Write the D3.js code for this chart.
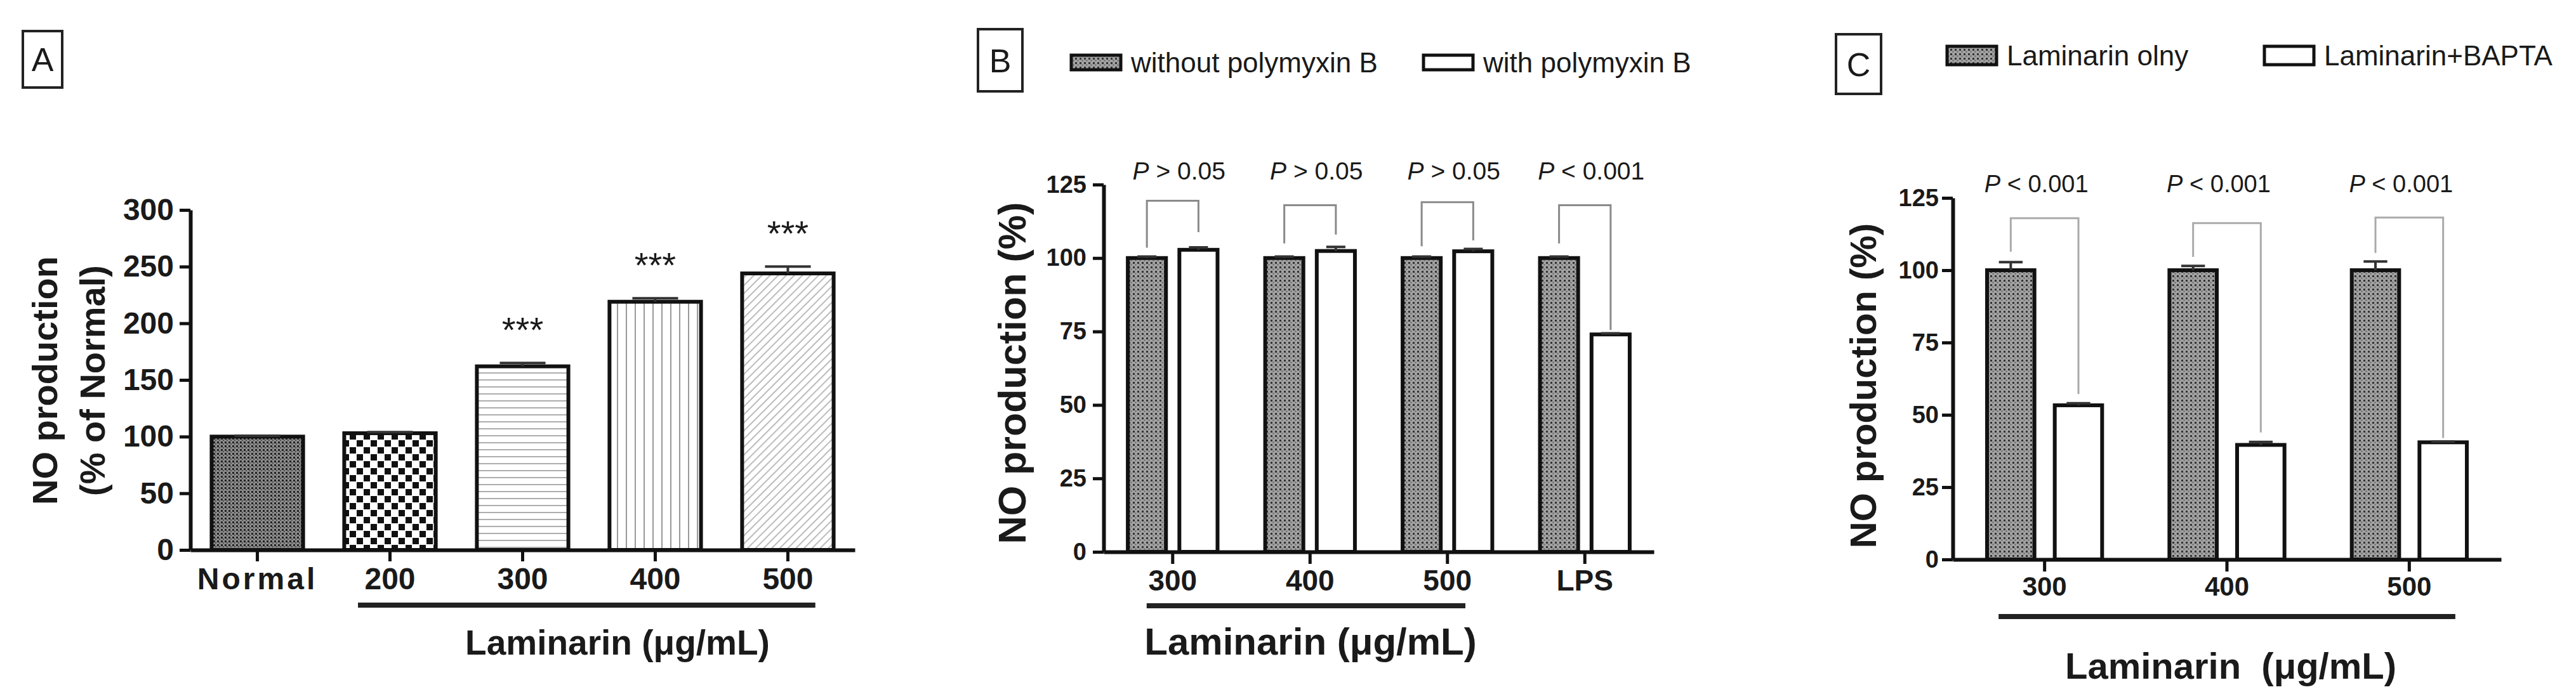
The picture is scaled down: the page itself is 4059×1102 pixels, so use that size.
<!DOCTYPE html>
<html>
<head>
<meta charset="utf-8">
<script src="https://cdn.jsdelivr.net/npm/d3@7"></script>
<style>
body { margin: 0; background: #fff; }
svg { display: block; }
text { font-family: "Liberation Sans", Arial, sans-serif; fill: #1a1a1a; }
</style>
</head>
<body>
<div id="chart"></div>
<script>
// ---- data ----
// panel A
const catsA = ['Normal', '200', '300', '400', '500'];
const valsA = [100, 103, 162, 219, 244];
const errA = [0.8, 1, 3, 3, 6];
const starsA = ['', '', '***', '***', '***'];
const ticksA = [0, 50, 100, 150, 200, 250, 300];

// panel B
const catsB = ['300', '400', '500', 'LPS'];
const seriesB = ['without polymyxin B', 'with polymyxin B'];
const withoutB = [100, 100, 100, 100];
const withB = [102.8, 102.4, 102.3, 74];
const errWithoutB = [0.5, 0.5, 0.5, 0.5];
const errWithB = [0.8, 1.4, 0.8, 0.4];
const pB = ['> 0.05', '> 0.05', '> 0.05', '< 0.001'];
const bracketTopB = [119.5, 118, 119, 118];
const bracketLeftB = [103.5, 105, 104, 105];
const bracketRightB = [108.8, 108, 106, 75.5];
const ticksB = [0, 25, 50, 75, 100, 125];

// panel C
const catsC = ['300', '400', '500'];
const seriesC = ['Laminarin olny', 'Laminarin+BAPTA'];
const onlyC = [100, 100, 100];
const baptaC = [53.3, 39.6, 40.5];
const errOnlyC = [2.8, 1.5, 3];
const errBaptaC = [0.7, 1, 0.3];
const pC = ['< 0.001', '< 0.001', '< 0.001'];
const bracketTopC = [118, 116.3, 118.2];
const bracketLeftC = [106.4, 104.6, 106];
const bracketRightC = [57.2, 43.9, 42];
const ticksC = [0, 25, 50, 75, 100, 125];

const W = 4059, H = 1102;
const svg = d3.select('#chart').append('svg').attr('width', W).attr('height', H);
const defs = svg.append('defs');

// ---- fill patterns ----
function makePattern(id, w, h, transform) {
    const p = defs.append('pattern').attr('id', id)
        .attr('patternUnits', 'userSpaceOnUse').attr('width', w).attr('height', h);
    if (transform) p.attr('patternTransform', transform);
    return p;
}
// dense cross-hatch (Normal)
let p = makePattern('meshDark', 6, 6);
p.append('rect').attr('width', 6).attr('height', 6).attr('fill', '#8c8c8c');
p.append('rect').attr('width', 3).attr('height', 3).attr('fill', '#222');
p.append('rect').attr('x', 3).attr('y', 3).attr('width', 2).attr('height', 2).attr('fill', '#4a4a4a');
// lighter mesh (B / C dark bars)
p = makePattern('mesh', 7, 7);
p.append('rect').attr('width', 7).attr('height', 7).attr('fill', '#a2a2a2');
p.append('rect').attr('width', 3).attr('height', 3).attr('fill', '#333');
p.append('rect').attr('x', 3.5).attr('y', 3.5).attr('width', 2).attr('height', 2).attr('fill', '#606060');
// checkerboard (200)
p = makePattern('checker', 22, 22);
p.append('rect').attr('width', 22).attr('height', 22).attr('fill', '#fff');
p.append('rect').attr('x', 1).attr('y', 1).attr('width', 10).attr('height', 10).attr('fill', '#111');
p.append('rect').attr('x', 12).attr('y', 12).attr('width', 10).attr('height', 10).attr('fill', '#111');
// horizontal lines (300)
p = makePattern('hlines', 10, 11);
p.append('rect').attr('width', 10).attr('height', 11).attr('fill', '#fff');
p.append('line').attr('x1', 0).attr('x2', 10).attr('y1', 5).attr('y2', 5).attr('stroke', '#999').attr('stroke-width', 1.6);
// vertical lines (400)
p = makePattern('vlines', 14, 10);
p.append('rect').attr('width', 14).attr('height', 10).attr('fill', '#fff');
p.append('line').attr('x1', 7).attr('x2', 7).attr('y1', 0).attr('y2', 10).attr('stroke', '#999').attr('stroke-width', 2);
// diagonal lines (500)
p = makePattern('diag', 9, 10, 'rotate(45)');
p.append('rect').attr('width', 9).attr('height', 10).attr('fill', '#fff');
p.append('line').attr('x1', 4).attr('x2', 4).attr('y1', 0).attr('y2', 10).attr('stroke', '#aaa').attr('stroke-width', 1.6);

const fillsA = ['meshDark', 'checker', 'hlines', 'vlines', 'diag'];

function styleAxis(g, fontSize) {
    g.select('.domain').attr('stroke', '#111').attr('stroke-width', 6);
    g.selectAll('.tick line').attr('stroke', '#111').attr('stroke-width', 5);
    g.selectAll('.tick text').attr('font-size', fontSize).attr('font-weight', 'bold').attr('fill', '#1a1a1a');
}

function letterBox(x, y, w, h, letter) {
    svg.append('rect').attr('x', x).attr('y', y).attr('width', w).attr('height', h)
        .attr('fill', 'none').attr('stroke', '#222').attr('stroke-width', 4);
    svg.append('text').attr('x', x + w / 2).attr('y', y + h / 2).attr('dy', '0.36em')
        .attr('text-anchor', 'middle').attr('font-size', 52).text(letter);
}

function rotatedTitle(cx, cy, size, txt) {
    svg.append('text').attr('transform', `translate(${cx},${cy}) rotate(-90)`)
        .attr('text-anchor', 'middle').attr('dy', '0.35em')
        .attr('font-size', size).attr('font-weight', 'bold').text(txt);
}

// ================= Panel A =================
letterBox(36, 49, 62, 89, 'A');

const xA = d3.scaleBand().domain(catsA).range([300, 1347]).paddingInner(0.31).paddingOuter(0.16);
const yA = d3.scaleLinear().domain([0, 300]).range([867, 331]);
const gA = svg.append('g');

gA.selectAll('rect.bar').data(catsA).join('rect')
    .attr('class', 'bar')
    .attr('x', d => xA(d))
    .attr('y', (d, i) => yA(valsA[i]))
    .attr('width', xA.bandwidth())
    .attr('height', (d, i) => yA(0) - yA(valsA[i]))
    .attr('fill', (d, i) => `url(#${fillsA[i]})`)
    .attr('stroke', '#111').attr('stroke-width', 6);

// error bars
gA.selectAll('path.err').data(catsA).join('path')
    .attr('class', 'err')
    .attr('d', (d, i) => {
        const cx = xA(d) + xA.bandwidth() / 2, hw = xA.bandwidth() / 4;
        return `M${cx},${yA(valsA[i])}V${yA(valsA[i] + errA[i])}M${cx - hw},${yA(valsA[i] + errA[i])}H${cx + hw}`;
    })
    .attr('stroke', '#333').attr('stroke-width', 4).attr('fill', 'none');

// stars
gA.selectAll('text.star').data(catsA).join('text')
    .attr('class', 'star')
    .attr('x', d => xA(d) + xA.bandwidth() / 2)
    .attr('y', (d, i) => yA(valsA[i] + errA[i]) - 33)
    .attr('text-anchor', 'middle').attr('font-size', 56).attr('fill', '#444')
    .text((d, i) => starsA[i]);

const axYA = gA.append('g').attr('transform', 'translate(300,0)')
    .call(d3.axisLeft(yA).tickValues(ticksA).tickSize(17).tickPadding(9).tickSizeOuter(0));
styleAxis(axYA, 48);

const axXA = gA.append('g').attr('transform', 'translate(0,867)')
    .call(d3.axisBottom(xA).tickSize(18).tickPadding(10).tickSizeOuter(0));
styleAxis(axXA, 48);
axXA.selectAll('.tick text').filter(d => d === 'Normal').attr('letter-spacing', 4);

rotatedTitle(70, 600, 56, 'NO production');
rotatedTitle(145, 600, 56, '(% of Normal)');

// underline under laminarin doses
gA.append('line')
    .attr('x1', xA('200') + 0.15 * xA.bandwidth())
    .attr('x2', xA('500') + 0.8 * xA.bandwidth())
    .attr('y1', 954).attr('y2', 954)
    .attr('stroke', '#222').attr('stroke-width', 8);
gA.append('text').attr('x', 973).attr('y', 1032).attr('text-anchor', 'middle')
    .attr('font-size', 55).attr('font-weight', 'bold').text('Laminarin (\u03bcg/mL)');

// ================= grouped panels (B, C) =================
function groupedPanel(o) {
    const g = svg.append('g');
    const x0 = d3.scaleBand().domain(o.cats).range(o.xRange).paddingInner(o.pi).paddingOuter(o.po);
    const x1 = d3.scaleBand().domain([0, 1]).range([0, x0.bandwidth()]).paddingInner(o.pi1);
    const y = d3.scaleLinear().domain([0, 125]).range(o.yRange);
    const fills = ['url(#mesh)', '#fff'];

    const rows = [];
    o.cats.forEach((c, i) => {
        rows.push({ c, s: 0, v: o.vals[0][i], e: o.errs[0][i] });
        rows.push({ c, s: 1, v: o.vals[1][i], e: o.errs[1][i] });
    });

    g.selectAll('rect.bar').data(rows).join('rect')
        .attr('class', 'bar')
        .attr('x', d => x0(d.c) + x1(d.s))
        .attr('y', d => y(d.v))
        .attr('width', x1.bandwidth())
        .attr('height', d => y(0) - y(d.v))
        .attr('fill', d => fills[d.s])
        .attr('stroke', '#111').attr('stroke-width', 6);

    g.selectAll('path.err').data(rows).join('path')
        .attr('class', 'err')
        .attr('d', d => {
            const cx = x0(d.c) + x1(d.s) + x1.bandwidth() / 2, hw = x1.bandwidth() / 4;
            return `M${cx},${y(d.v)}V${y(d.v + d.e)}M${cx - hw},${y(d.v + d.e)}H${cx + hw}`;
        })
        .attr('stroke', '#333').attr('stroke-width', 4).attr('fill', 'none');

    // significance brackets
    g.selectAll('path.bracket').data(o.cats).join('path')
        .attr('class', 'bracket')
        .attr('d', (c, i) => {
            const xl = x0(c) + x1(0) + x1.bandwidth() / 2;
            const xr = x0(c) + x1(1) + x1.bandwidth() / 2;
            return `M${xl},${y(o.bLeft[i])}V${y(o.bTop[i])}H${xr}V${y(o.bRight[i])}`;
        })
        .attr('fill', 'none').attr('stroke', o.bracketColor).attr('stroke-width', 3);

    const pt = g.selectAll('text.pval').data(o.cats).join('text')
        .attr('class', 'pval')
        .attr('x', c => x0(c) + x0.bandwidth() / 2 + o.pShift)
        .attr('y', o.pY)
        .attr('text-anchor', 'middle').attr('font-size', o.pSize).attr('fill', '#333');
    pt.append('tspan').attr('font-style', 'italic').text('P');
    pt.append('tspan').text((c, i) => ' ' + o.pText[i]);

    const axY = g.append('g').attr('transform', `translate(${o.xRange[0]},0)`)
        .call(d3.axisLeft(y).tickValues(o.ticks).tickSize(17).tickPadding(o.yPad).tickSizeOuter(0));
    styleAxis(axY, o.yTickSize);

    const axX = g.append('g').attr('transform', `translate(0,${o.yRange[0]})`)
        .call(d3.axisBottom(x0).tickSize(19).tickPadding(o.xPad).tickSizeOuter(0));
    styleAxis(axX, o.xTickSize);

    // underline for laminarin doses
    g.append('line')
        .attr('x1', x0(o.cats[0]) + o.ulStart * x0.bandwidth())
        .attr('x2', x0(o.ulLast) + o.ulEnd * x0.bandwidth())
        .attr('y1', o.ulY).attr('y2', o.ulY)
        .attr('stroke', '#222').attr('stroke-width', 8);

    // legend
    o.series.forEach((s, i) => {
        g.append('rect').attr('x', o.legX[i]).attr('y', o.legY).attr('width', 78).attr('height', o.legH)
            .attr('fill', fills[i]).attr('stroke', '#111').attr('stroke-width', 5);
        g.append('text').attr('x', o.legX[i] + 94).attr('y', o.legY + o.legH / 2).attr('dy', '0.36em')
            .attr('font-size', o.legSize).attr('fill', '#333').text(s);
    });
}

// ================= Panel B =================
letterBox(1541, 46, 70, 98, 'B');
groupedPanel({
    cats: catsB, series: seriesB,
    vals: [withoutB, withB], errs: [errWithoutB, errWithB],
    xRange: [1739, 2606], yRange: [870, 291],
    pi: 0.347, po: 0.176, pi1: 0.26,
    bTop: bracketTopB, bLeft: bracketLeftB, bRight: bracketRightB, bracketColor: '#8a8a8a',
    pText: pB, pY: 283, pSize: 39, pShift: 10,
    ticks: ticksB, yPad: 10, yTickSize: 38, xPad: 9, xTickSize: 46,
    ulStart: 0.21, ulLast: '500', ulEnd: 0.7, ulY: 955,
    legX: [1688, 2243], legY: 87, legH: 23, legSize: 44
});
rotatedTitle(1595, 588, 61, 'NO production (%)');
svg.append('text').attr('x', 2065).attr('y', 1032).attr('text-anchor', 'middle')
    .attr('font-size', 60).attr('font-weight', 'bold').text('Laminarin (\u03bcg/mL)');

// ================= Panel C =================
letterBox(2893, 54, 71, 94, 'C');
groupedPanel({
    cats: catsC, series: seriesC,
    vals: [onlyC, baptaC], errs: [errOnlyC, errBaptaC],
    xRange: [3077, 3941], yRange: [882, 312],
    pi: 0.369, po: 0.188, pi1: 0.3,
    bTop: bracketTopC, bLeft: bracketLeftC, bRight: bracketRightC, bracketColor: '#aaa',
    pText: pC, pY: 303, pSize: 38, pShift: -13,
    ticks: ticksC, yPad: 5, yTickSize: 38, xPad: 8, xTickSize: 42,
    ulStart: 0.1, ulLast: '500', ulEnd: 0.9, ulY: 972,
    legX: [3068, 3568], legY: 73, legH: 29, legSize: 44
});
rotatedTitle(2936, 608, 58, 'NO production (%)');
svg.append('text').attr('x', 3515).attr('y', 1070).attr('text-anchor', 'middle')
    .attr('font-size', 58).attr('font-weight', 'bold').style('white-space', 'pre')
    .text('Laminarin  (\u03bcg/mL)');
</script>
</body>
</html>
